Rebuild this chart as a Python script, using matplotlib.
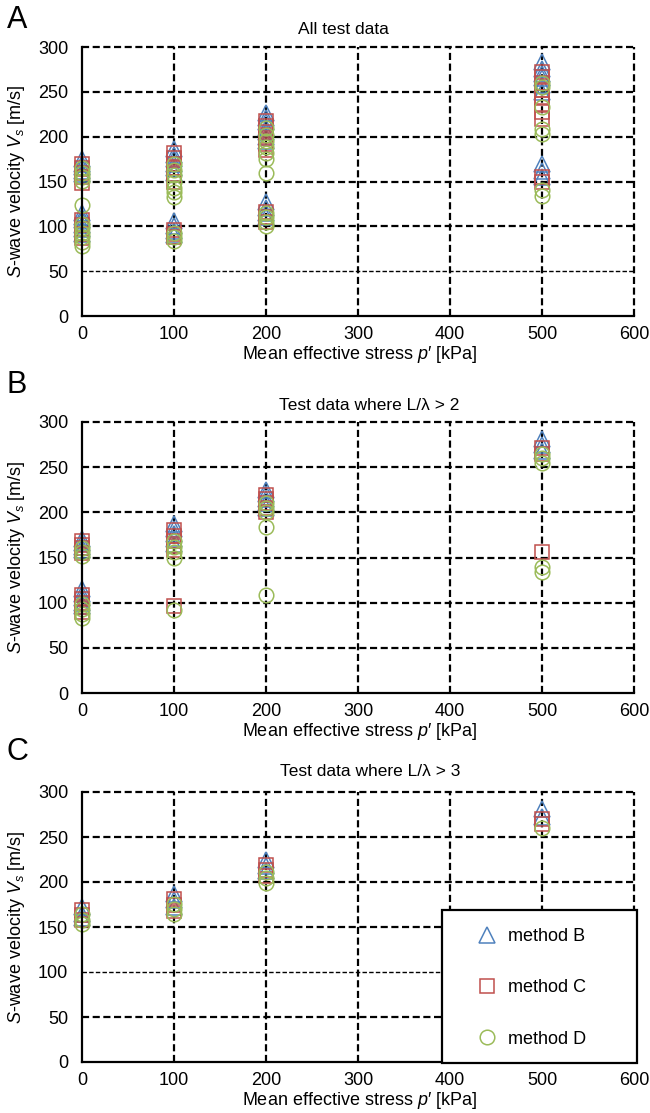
import matplotlib
matplotlib.use("Agg")
import matplotlib.pyplot as plt
from matplotlib.patches import Rectangle

plt.rcParams['font.family'] = ['Liberation Sans', 'DejaVu Sans']
plt.rcParams['mathtext.fontset'] = 'custom'
plt.rcParams['mathtext.rm'] = 'Liberation Sans'
plt.rcParams['mathtext.it'] = 'Liberation Sans:italic'

# ---------------- data ----------------
stress_levels = [0, 100, 200, 500]
method_names = ["method B", "method C", "method D"]

# Panel A: all test data (values per stress level)
A_method_B = [[158, 162, 166, 170, 175, 92, 97, 102, 107, 110, 115],
              [160, 165, 170, 175, 180, 186, 90, 95, 100, 106],
              [195, 200, 205, 210, 216, 221, 226, 110, 115, 120, 127],
              [250, 258, 265, 270, 276, 283, 155, 162, 170]]
A_method_C = [[148, 155, 160, 165, 170, 87, 92, 97, 102, 107],
              [150, 158, 165, 170, 176, 182, 88, 92, 96],
              [185, 192, 198, 205, 212, 218, 105, 110, 116],
              [220, 228, 236, 244, 252, 260, 266, 272, 150, 155]]
A_method_D = [[151, 155, 160, 165, 124, 78, 83, 88, 93, 98, 103],
              [133, 138, 143, 150, 157, 163, 170, 84, 88, 93],
              [159, 175, 182, 188, 195, 202, 210, 100, 105, 110, 115],
              [203, 208, 233, 255, 260, 134, 140]]

# Panel B: test data where L/lambda > 2
B_method_B = [[158, 162, 166, 170, 96, 100, 105, 110, 115],
              [165, 170, 176, 181, 187],
              [205, 210, 215, 220, 225],
              [268, 274, 281]]
B_method_C = [[155, 160, 164, 168, 90, 95, 100, 104, 108],
              [158, 163, 168, 174, 180, 96],
              [200, 205, 210, 215, 219],
              [265, 271, 156]]
B_method_D = [[152, 156, 160, 83, 88, 93, 98],
              [150, 156, 162, 168, 92],
              [184, 200, 205, 210, 108],
              [255, 260, 265, 140, 134]]

# Panel C: test data where L/lambda > 3
C_method_B = [[160, 165, 172], [172, 180, 187], [212, 218, 225], [272, 281]]
C_method_C = [[158, 163, 169], [168, 175, 181], [207, 213, 219], [264, 270]]
C_method_D = [[153, 158, 165], [164, 170, 176], [199, 205, 211], [260]]

panel_letters = ["A", "B", "C"]
panel_titles = ["All test data", "Test data where L/\u03bb > 2", "Test data where L/\u03bb > 3"]
x_ticks = [0, 100, 200, 300, 400, 500, 600]
y_ticks = [0, 50, 100, 150, 200, 250, 300]

# ---------------- style ----------------
colors = ["#4F81BD", "#C0504D", "#9BBB59"]
markers = ["^", "s", "o"]

W, H = 650, 1113
fig = plt.figure(figsize=(W / 100, H / 100), dpi=100)

# axes rectangles in pixels: (left, top, right, bottom)
ax_px = [(82, 47, 634, 316), (82, 422, 634, 693), (82, 792, 634, 1062)]
title_px = [(343, 30), (369, 405), (370, 771)]
letter_px = [(17, 20), (17, 385), (17, 752)]
thin_grid = [50, None, 100]

panels = [(A_method_B, A_method_C, A_method_D),
          (B_method_B, B_method_C, B_method_D),
          (C_method_B, C_method_C, C_method_D)]

dash = (0, (3.2, 1.6))
axes = []
for i, (l, t, r, b) in enumerate(ax_px):
    ax = fig.add_axes([l / W, 1 - b / H, (r - l) / W, (b - t) / H])
    axes.append(ax)
    ax.set_xlim(0, 600)
    ax.set_ylim(0, 300)
    ax.set_xticks(x_ticks)
    ax.set_yticks(y_ticks)
    ax.tick_params(length=0, labelsize=13)
    ax.tick_params(axis="y", pad=10)
    ax.tick_params(axis="x", pad=7)
    for s in ["top", "right"]:
        ax.spines[s].set_visible(False)
    for s in ["left", "bottom"]:
        ax.spines[s].set_linewidth(1.6)
        ax.spines[s].set_color("black")
        ax.spines[s].set_zorder(4)
    # grid lines
    for yv in y_ticks[1:]:
        lw = 1.0 if yv == thin_grid[i] else 1.6
        ax.axhline(yv, color="black", lw=lw, ls=dash, zorder=1, clip_on=False)
    for xv in x_ticks[1:]:
        ax.axvline(xv, color="black", lw=1.6, ls=dash, zorder=1, clip_on=False)

    for m in range(3):
        data = panels[i][m]
        xs, ys = [], []
        for p, vals in zip(stress_levels, data):
            xs += [p] * len(vals)
            ys += vals
        ax.plot(xs, ys, linestyle="none", marker=markers[m], markersize=10.5 if m != 0 else 11,
                markerfacecolor="none", markeredgecolor=colors[m], markeredgewidth=1.1,
                clip_on=False, zorder=3 + m * 0.1, label=method_names[m])

    ax.set_xlabel("Mean effective stress $p\u2032$ [kPa]", fontsize=13)
    ax.xaxis.set_label_coords((360 - l) / (r - l), -28 / (b - t))
    ax.set_ylabel("$S$-wave velocity $V_s$ [m/s]", fontsize=13)
    ax.yaxis.set_label_coords(-(l - 27) / (r - l), 0.5)

    tx, ty = title_px[i]
    fig.text(tx / W, 1 - ty / H, panel_titles[i], fontsize=12.5, ha="center", va="center")
    lx, ly = letter_px[i]
    fig.text(lx / W, 1 - ly / H, panel_letters[i], fontsize=22, ha="center", va="center")

# legend box (panel C)
axC = axes[2]
box = Rectangle((442 / W, 1 - 1063 / H), (637 - 442) / W, (1063 - 910) / H,
                transform=fig.transFigure, facecolor="white", edgecolor="black",
                linewidth=1.6, zorder=10)
fig.patches.append(box)
leg = fig.legend(handles=axC.get_lines()[-3:], labels=method_names,
                 loc="upper left", bbox_to_anchor=(474 / W, 1 - 928 / H),
                 frameon=False, fontsize=13, handlelength=1.45, handletextpad=0.45,
                 labelspacing=1.9, borderpad=0, borderaxespad=0)
leg.set_zorder(11)

fig.savefig("out.png", dpi=100)
